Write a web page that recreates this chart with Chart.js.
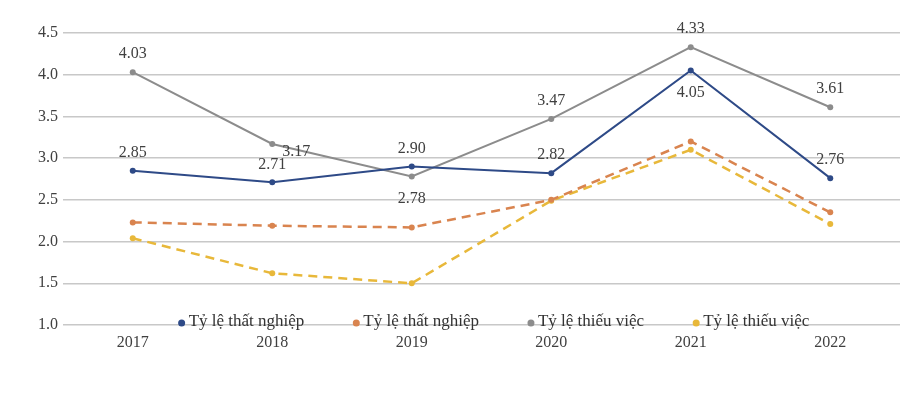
<!DOCTYPE html>
<html>
<head>
<meta charset="utf-8">
<script src="https://cdn.jsdelivr.net/npm/chart.js@4/dist/chart.umd.min.js"></script>
<style>
html,body{margin:0;padding:0;background:#fff;}
canvas{display:block;}
</style>
</head>
<body>
<canvas id="c" width="903" height="396"></canvas>
<script>
const years = ['2017', '2018', '2019', '2020', '2021', '2022'];
const unemploymentA = [2.85, 2.71, 2.90, 2.82, 4.05, 2.76];
const unemploymentB = [2.23, 2.19, 2.17, 2.50, 3.20, 2.35];
const underemploymentA = [4.03, 3.17, 2.78, 3.47, 4.33, 3.61];
const underemploymentB = [2.04, 1.62, 1.50, 2.49, 3.10, 2.21];
const seriesNames = ['Tỷ lệ thất nghiệp', 'Tỷ lệ thất nghiệp', 'Tỷ lệ thiếu việc', 'Tỷ lệ thiếu việc'];
const yMin = 1.0, yMax = 4.5, yStep = 0.5;

// label placement keywords for the labelled series
const unemploymentALabelPos = ['above', 'above', 'above', 'above', 'below', 'above'];
const underemploymentALabelPos = ['above', 'right', 'below', 'above', 'above', 'above'];

const FONT = "'Liberation Serif', 'Times New Roman', serif";
const TEXT = '#404040';
Chart.defaults.font.family = FONT;
Chart.defaults.font.size = 16;
Chart.defaults.color = TEXT;

const colors = ['#2E4A87', '#D9844F', '#8C8C8C', '#E8B83A'];

const labelPlugin = {
  id: 'pointLabels',
  afterDatasetsDraw(chart) {
    const ctx = chart.ctx;
    ctx.save();
    ctx.font = '16px ' + FONT;
    ctx.fillStyle = TEXT;
    ctx.textAlign = 'center';
    ctx.textBaseline = 'middle';
    chart.data.datasets.forEach((ds, di) => {
      if (!ds.labelPos) return;
      const meta = chart.getDatasetMeta(di);
      meta.data.forEach((pt, i) => {
        const pos = ds.labelPos[i];
        let x = pt.x, y = pt.y;
        if (pos === 'above') y -= 18;
        else if (pos === 'below') y += 22;
        else if (pos === 'right') { x += 24; y += 8; }
        ctx.fillText(ds.data[i].toFixed(2), x, y);
      });
    });
    ctx.restore();
  }
};

const legendPlugin = {
  id: 'inlineLegend',
  afterDraw(chart) {
    const ctx = chart.ctx;
    const area = chart.chartArea;
    ctx.save();
    ctx.font = '17px ' + FONT;
    ctx.textBaseline = 'middle';
    ctx.textAlign = 'left';
    const markerW = 8, markerGap = 3, itemGap = 48;
    const items = chart.data.datasets.map(ds => ({
      text: ds.label, color: ds.borderColor, w: ctx.measureText(ds.label).width
    }));
    const total = items.reduce((s, it) => s + markerW + markerGap + it.w, 0) + itemGap * (items.length - 1);
    let x = (area.left + area.right) / 2 + 12 - total / 2;
    const y = area.bottom - 3;
    items.forEach(it => {
      ctx.fillStyle = it.color;
      ctx.beginPath();
      ctx.arc(x + markerW / 2, y + 1, 3.5, 0, Math.PI * 2);
      ctx.fill();
      x += markerW + markerGap;
      ctx.fillStyle = '#333';
      ctx.fillText(it.text, x, y);
      x += it.w + itemGap;
    });
    ctx.restore();
  }
};

function mk(label, data, color, dashed, labelPos) {
  return {
    label, data,
    borderColor: color,
    backgroundColor: color,
    borderWidth: dashed ? 2.5 : 2,
    borderDash: dashed ? [9, 6] : [],
    pointRadius: 3,
    pointHoverRadius: 3,
    pointBorderWidth: 0,
    tension: 0,
    fill: false,
    labelPos
  };
}

new Chart(document.getElementById('c'), {
  type: 'line',
  data: {
    labels: years,
    datasets: [
      mk(seriesNames[0], unemploymentA, colors[0], false, unemploymentALabelPos),
      mk(seriesNames[1], unemploymentB, colors[1], true, null),
      mk(seriesNames[2], underemploymentA, colors[2], false, underemploymentALabelPos),
      mk(seriesNames[3], underemploymentB, colors[3], true, null)
    ]
  },
  options: {
    responsive: false,
    animation: false,
    devicePixelRatio: 1,
    layout: { padding: { top: 33, right: 0, bottom: 41, left: 0 } },
    plugins: { legend: { display: false }, tooltip: { enabled: false } },
    scales: {
      x: {
        offset: true,
        grid: { display: false, drawTicks: false },
        border: { display: false },
        ticks: { padding: 8, color: TEXT, font: { size: 16 } },
        afterFit(s) { s.height = 30; }
      },
      y: {
        min: yMin, max: yMax,
        grid: { color: '#C8C8C8', lineWidth: 1.5, drawTicks: false },
        border: { display: false },
        ticks: { stepSize: yStep, padding: 5, color: TEXT, font: { size: 16 },
          callback: v => Number(v).toFixed(1) },
        afterFit(s) { s.width = 63; }
      }
    }
  },
  plugins: [labelPlugin, legendPlugin]
});
</script>
</body>
</html>
